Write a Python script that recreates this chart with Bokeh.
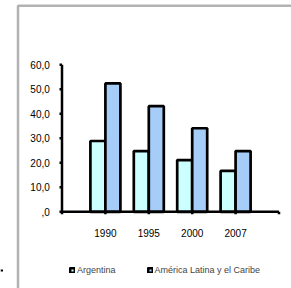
from bokeh.plotting import figure
from bokeh.models import (Range1d, Legend, LegendItem, BoxAnnotation, ColumnDataSource)
from bokeh.core.properties import value
from bokeh.embed import file_html
from bokeh.resources import INLINE

# ---- data ----
years = ["1990", "1995", "2000", "2007"]
argentina = [28.9, 24.8, 21.1, 16.7]
america_latina = [52.4, 43.1, 34.1, 24.8]
y_ticks = [0, 10, 20, 30, 40, 50, 60]
y_tick_labels = [",0", "10,0", "20,0", "30,0", "40,0", "50,0", "60,0"]
series_names = ["Argentina", "América Latina y el Caribe"]

# ---- layout (pixels) ----
W, H = 291, 288
PX_X = 43.4          # pixels per category slot
PX_Y = 2.45          # pixels per value unit
X0_PX = 61.5         # canvas x of the value axis
Y0_PX = 211.3        # canvas y (from top) of value 0
FONT = "Liberation Sans"
AX_W = 2.5

n_slots = len(years) + 1
pos = list(range(1, len(years) + 1))
bw = 15 / PX_X
off = bw / 2

p = figure(width=W, height=H, output_backend="svg", toolbar_location=None,
           x_axis_type=None, y_axis_type=None,
           x_range=Range1d(-X0_PX / PX_X, (W - X0_PX) / PX_X),
           y_range=Range1d(-(H - Y0_PX) / PX_Y, Y0_PX / PX_Y),
           min_border=0)
p.outline_line_color = None
p.grid.visible = False
p.background_fill_color = "white"
p.border_fill_color = "white"

src = ColumnDataSource(dict(x_arg=[q - off for q in pos], x_lac=[q + off for q in pos],
                            arg=argentina, lac=america_latina))
r1 = p.vbar(x="x_arg", top="arg", width=bw, source=src, fill_color="#CCFFFF",
            line_color="black", line_width=2.7)
r2 = p.vbar(x="x_lac", top="lac", width=bw, source=src, fill_color="#A6CCF8",
            line_color="black", line_width=2.7)

# ---- axes drawn from tick arrays ----
ymin, ymax = y_ticks[0], y_ticks[-1]
p.segment(x0=[0], y0=[ymin], x1=[0], y1=[ymax], line_color="black", line_width=AX_W)
p.segment(x0=[0], y0=[ymin], x1=[n_slots], y1=[ymin], line_color="black", line_width=AX_W)
tick_len_x = 2.5 / PX_X
p.segment(x0=[0] * len(y_ticks), y0=y_ticks, x1=[-tick_len_x] * len(y_ticks), y1=y_ticks,
          line_color="black", line_width=AX_W)
xt = list(range(0, n_slots + 1))
tick_len_y = 2.5 / PX_Y
p.segment(x0=xt, y0=[ymin] * len(xt), x1=xt, y1=[ymin - tick_len_y] * len(xt),
          line_color="black", line_width=AX_W)
p.text(x=[-12.2 / PX_X] * len(y_ticks), y=y_ticks, text=y_tick_labels,
       text_align="right", text_baseline="middle", text_font=value(FONT),
       text_font_size="10px", text_color="black")
p.text(x=pos, y=[ymin - 21.2 / PX_Y] * len(pos), text=years,
       text_align="center", text_baseline="middle", text_font=value(FONT),
       text_font_size="10px", text_color="black")

legend = Legend(items=[LegendItem(label=series_names[0], renderers=[r1]),
                       LegendItem(label=series_names[1], renderers=[r2])],
                orientation="horizontal", location=(69, 13),
                glyph_width=6, glyph_height=6, label_standoff=2, spacing=31,
                padding=0, margin=0, border_line_alpha=0, background_fill_alpha=0,
                label_text_font=FONT, label_text_font_size="9px",
                label_height=6, label_text_baseline="middle")
p.add_layout(legend, "center")

# outer frame border (left and top edges visible)
p.add_layout(BoxAnnotation(left=(17.5 - X0_PX) / PX_X, right=(W + 50 - X0_PX) / PX_X,
                           top=(Y0_PX - 5.3) / PX_Y, bottom=-(H + 50 - Y0_PX) / PX_Y,
                           fill_alpha=0, line_color="black", line_width=2.5,
                           level="overlay"))
# small stray dash at the far left
p.add_layout(BoxAnnotation(left=(0 - X0_PX) / PX_X, right=(2.5 - X0_PX) / PX_X,
                           top=(Y0_PX - 269) / PX_Y, bottom=(Y0_PX - 271) / PX_Y,
                           fill_color="black", fill_alpha=1, line_alpha=0,
                           level="overlay"))

open("out.html", "w").write(file_html(p, INLINE))
